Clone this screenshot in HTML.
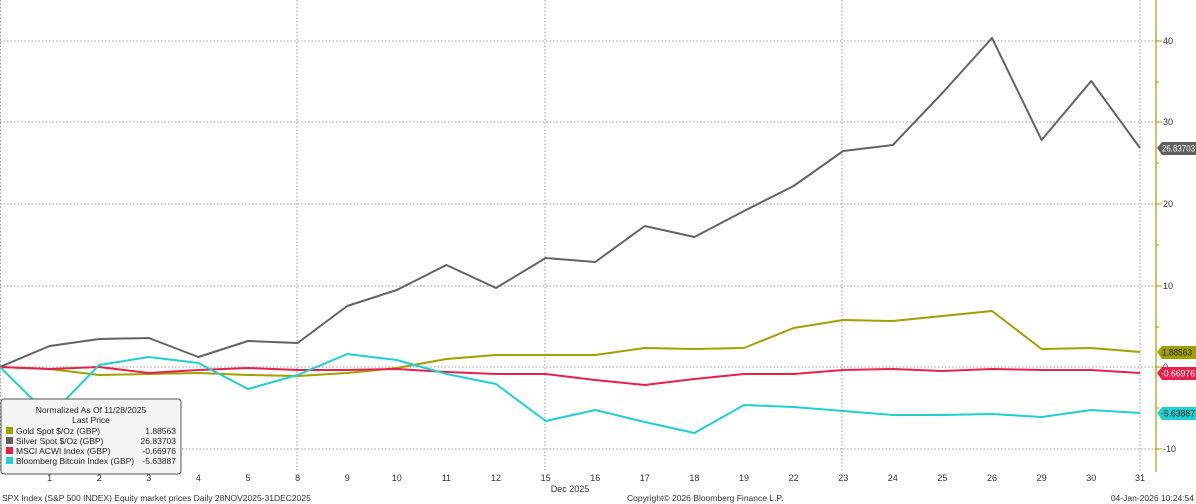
<!DOCTYPE html>
<html><head><meta charset="utf-8"><style>
html,body{margin:0;padding:0;background:#fff;}
svg{display:block;font-family:"Liberation Sans","DejaVu Sans",sans-serif;}
</style></head><body>
<svg width="1196" height="504" viewBox="0 0 1196 504" xmlns="http://www.w3.org/2000/svg">
<rect width="1196" height="504" fill="#fff"/>
<g stroke="#999" stroke-width="1" stroke-dasharray="1.5,2" fill="none">
<line x1="0" y1="41" x2="1156" y2="41"/>
<line x1="0" y1="122" x2="1156" y2="122"/>
<line x1="0" y1="204" x2="1156" y2="204"/>
<line x1="0" y1="286" x2="1156" y2="286"/>
<line x1="0" y1="367" x2="1156" y2="367"/>
<line x1="0" y1="449" x2="1156" y2="449"/>
<line x1="297" y1="0" x2="297" y2="472"/>
<line x1="545" y1="0" x2="545" y2="472"/>
<line x1="842" y1="0" x2="842" y2="472"/>
<line x1="1140" y1="0" x2="1140" y2="472"/>
<line x1="0.5" y1="0" x2="0.5" y2="472"/>
</g>
<line x1="1156" y1="0" x2="1156" y2="472" stroke="#a0a000" stroke-width="1.2"/>
<g stroke="#a0a000" stroke-width="1">
<line x1="1156" y1="41" x2="1162" y2="41"/><line x1="1156" y1="122" x2="1162" y2="122"/>
<line x1="1156" y1="204" x2="1162" y2="204"/><line x1="1156" y1="286" x2="1162" y2="286"/>
<line x1="1156" y1="367" x2="1162" y2="367"/><line x1="1156" y1="449" x2="1162" y2="449"/>
<line x1="1156" y1="82" x2="1159" y2="82"/><line x1="1156" y1="163" x2="1159" y2="163"/>
<line x1="1156" y1="245" x2="1159" y2="245"/><line x1="1156" y1="327" x2="1159" y2="327"/>
<line x1="1156" y1="408" x2="1159" y2="408"/>
</g>
<g font-size="9" fill="#333">
<text x="1163" y="44">40</text><text x="1163" y="125">30</text><text x="1163" y="207">20</text>
<text x="1163" y="289">10</text><text x="1163" y="370">0</text><text x="1163" y="452">-10</text>
</g>
<g fill="none" stroke-width="2" stroke-linejoin="round">
<polyline stroke="#a0a000" points="0,367 49.6,369 99.2,375 148.8,374 198.4,373 248,375 297.6,376 347.2,373 396.8,368 446.4,359 496,355 545.6,355 595.2,355 644.8,348 694.4,349 744,348 793.6,328 843.2,320 892.8,321 942.4,316 992,311 1041.6,349 1091.2,348 1140,352"/>
<polyline stroke="#636363" points="0,367 49.6,346 99.2,339 148.8,338 198.4,357 248,341 297.6,343 347.2,306 396.8,290 446.4,265 496,288 545.6,258 595.2,262 644.8,226 694.4,237 744,211 793.6,186 843.2,151 892.8,145 942.4,93 992,38 1041.6,140 1091.2,81 1140,148"/>
<polyline stroke="#e8204a" points="0,367 49.6,369 99.2,367 148.8,373 198.4,370 248,368 297.6,370 347.2,370 396.8,369 446.4,372 496,374 545.6,374 595.2,380 644.8,385 694.4,379 744,374 793.6,374 843.2,370 892.8,369 942.4,371 992,369 1041.6,370 1091.2,370 1140,373"/>
<polyline stroke="#20d0d0" points="0,367 49.6,416 99.2,365 148.8,357 198.4,363 248,389 297.6,375 347.2,354 396.8,360 446.4,374 496,384 545.6,421 595.2,410 644.8,422 694.4,433 744,405 793.6,407 843.2,411 892.8,415 942.4,415 992,414 1041.6,417 1091.2,410 1140,413"/>
</g>
<g font-size="9">
<path d="M1157,148 l5,-6 h34 v13 h-34 z" fill="#606060"/><text x="1162" y="151.5" fill="#fff" textLength="33" lengthAdjust="spacingAndGlyphs">26.83703</text>
<path d="M1157,352 l5,-6 h34 v13 h-34 z" fill="#a0a000"/><text x="1162" y="355.5" fill="#222" textLength="30" lengthAdjust="spacingAndGlyphs">1.88563</text>
<path d="M1157,373 l5,-6 h34 v13 h-34 z" fill="#e8204a"/><text x="1161" y="376.5" fill="#fff" textLength="34" lengthAdjust="spacingAndGlyphs">-0.66976</text>
<path d="M1157,413 l5,-6 h34 v13 h-34 z" fill="#20d0d0"/><text x="1161" y="416.5" fill="#222" textLength="34" lengthAdjust="spacingAndGlyphs">-5.63887</text>
</g>
<rect x="1" y="399" width="180" height="75" rx="3" fill="#f4f4f4" stroke="#555" stroke-width="1"/>
<g font-size="8.5" fill="#222">
<text x="91" y="413" text-anchor="middle">Normalized As Of 11/28/2025</text>
<text x="91" y="423" text-anchor="middle">Last Price</text>
<rect x="6" y="427" width="7" height="7" fill="#a0a000"/><text x="16" y="434">Gold Spot $/Oz (GBP)</text><text x="176" y="434" text-anchor="end">1.88563</text>
<rect x="6" y="437" width="7" height="7" fill="#606060"/><text x="16" y="444">Silver Spot $/Oz (GBP)</text><text x="176" y="444" text-anchor="end">26.83703</text>
<rect x="6" y="447" width="7" height="7" fill="#e8204a"/><text x="16" y="454">MSCI ACWI Index (GBP)</text><text x="176" y="454" text-anchor="end">-0.66976</text>
<rect x="6" y="457" width="7" height="7" fill="#20d0d0"/><text x="16" y="464">Bloomberg Bitcoin Index (GBP)</text><text x="176" y="464" text-anchor="end">-5.63887</text>
</g>
<g font-size="9" fill="#333" text-anchor="middle">
<text x="49.6" y="481">1</text><text x="99.2" y="481">2</text><text x="148.8" y="481">3</text><text x="198.4" y="481">4</text><text x="248" y="481">5</text>
<text x="297.6" y="481">8</text><text x="347.2" y="481">9</text><text x="396.8" y="481">10</text><text x="446.4" y="481">11</text><text x="496" y="481">12</text>
<text x="545.6" y="481">15</text><text x="595.2" y="481">16</text><text x="644.8" y="481">17</text><text x="694.4" y="481">18</text><text x="744" y="481">19</text>
<text x="793.6" y="481">22</text><text x="843.2" y="481">23</text><text x="892.8" y="481">24</text><text x="942.4" y="481">25</text><text x="992" y="481">26</text>
<text x="1041.6" y="481">29</text><text x="1091.2" y="481">30</text><text x="1140" y="481">31</text>
<text x="570" y="492">Dec 2025</text>
</g>
<g font-size="8.5" fill="#333">
<text x="2" y="501">SPX Index (S&amp;P 500 INDEX) Equity market prices Daily 28NOV2025-31DEC2025</text>
<text x="627" y="501">Copyright© 2026 Bloomberg Finance L.P.</text>
<text x="1194" y="501" text-anchor="end">04-Jan-2026 10:24:54</text>
</g>
</svg>
</body></html>
